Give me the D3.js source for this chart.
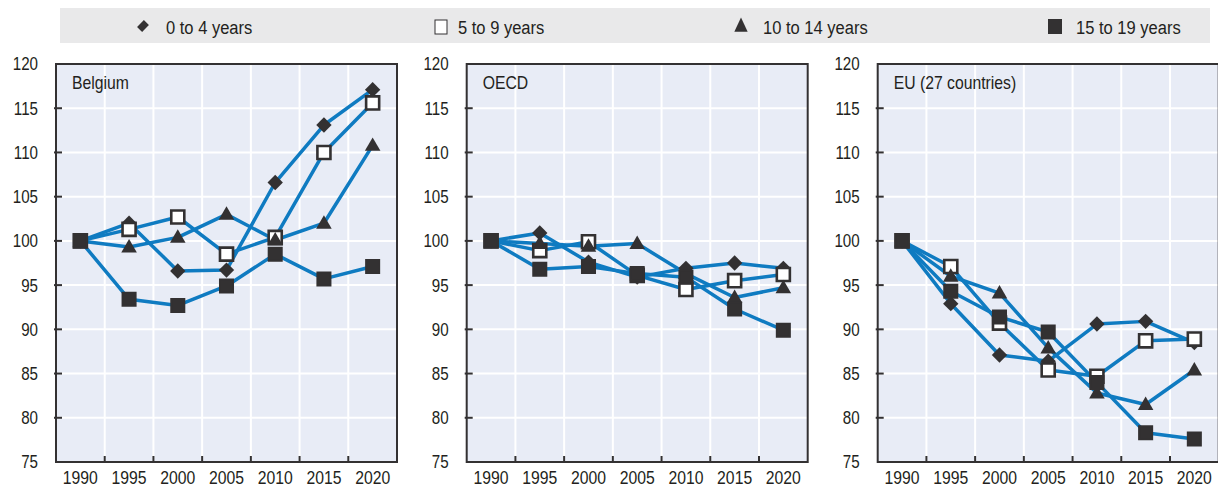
<!DOCTYPE html>
<html><head><meta charset="utf-8">
<script src="https://cdn.jsdelivr.net/npm/d3@7"></script>
<style>
body{margin:0;background:#fff;}
svg text{font-family:"Liberation Sans Narrow","Arial Narrow","Liberation Sans",Arial,sans-serif;fill:#231f20;}
</style></head><body><svg id="c" width="1218" height="488"></svg>
<script>
// ---- data ----
const years = ["1990","1995","2000","2005","2010","2015","2020"];
const yTicks = [75,80,85,90,95,100,105,110,115,120];
const panelNames = ["Belgium","OECD","EU (27 countries)"];
const seriesNames = ["0 to 4 years","5 to 9 years","10 to 14 years","15 to 19 years"];
const seriesSymbols = ["diamond","openSquare","triangle","square"];

const belgium0to4   = [100,102.0,96.6,96.7,106.6,113.1,117.1];
const belgium5to9   = [100,101.3,102.7,98.5,100.4,110.0,115.6];
const belgium10to14 = [100,99.3,100.4,103.0,100.1,102.0,110.8];
const belgium15to19 = [100,93.4,92.7,94.9,98.5,95.7,97.1];

const oecd0to4   = [100,100.9,97.6,95.9,96.9,97.5,96.9];
const oecd5to9   = [100,98.9,99.9,96.1,94.5,95.5,96.2];
const oecd10to14 = [100,99.7,99.4,99.7,96.3,93.6,94.7];
const oecd15to19 = [100,96.8,97.1,96.3,95.9,92.3,89.9];

const eu0to4   = [100,92.9,87.1,86.4,90.6,90.9,88.5];
const eu5to9   = [100,97.1,90.7,85.4,84.7,88.7,88.9];
const eu10to14 = [100,96.0,94.1,87.9,82.8,81.5,85.4];
const eu15to19 = [100,94.3,91.4,89.7,84.0,78.3,77.6];

const panelData = [
  [belgium0to4, belgium5to9, belgium10to14, belgium15to19],
  [oecd0to4, oecd5to9, oecd10to14, oecd15to19],
  [eu0to4, eu5to9, eu10to14, eu15to19]
];

// ---- drawing ----
const svg = d3.select("#c");
const lineColor = "#0f7bc1";
const markColor = "#333132";
const plotBg = "#e8ecf6";

// horizontally condense text (narrow face not installed)
function squeeze(sel, sx){
  sel.each(function(){
    const t = d3.select(this);
    const x = +t.attr("x") || 0;
    t.attr("x", x / sx).attr("transform", `scale(${sx},1)`);
  });
}

function symbolPath(kind){
  if (kind === "diamond") return d3.symbol(d3.symbolSquare, 118)();
  if (kind === "triangle") return d3.symbol(d3.symbolTriangle, 105)();
  return d3.symbol(d3.symbolSquare, 170)();
}
function drawMarker(g, kind, x, y){
  const p = g.append("path").attr("d", symbolPath(kind));
  if (kind === "diamond") {
    p.attr("transform", `translate(${x},${y}) rotate(45)`).attr("fill", markColor);
  } else if (kind === "openSquare") {
    p.attr("transform", `translate(${x},${y})`).attr("fill", "#fff").attr("stroke", markColor).attr("stroke-width", 2.6);
  } else if (kind === "triangle") {
    p.attr("transform", `translate(${x},${y+1})`).attr("fill", markColor);
  } else {
    p.attr("transform", `translate(${x},${y})`).attr("fill", markColor).attr("stroke", markColor).attr("stroke-width", 2);
  }
}

// Legend
const legend = svg.append("g");
legend.append("rect").attr("x", 60).attr("y", 8).attr("width", 1150).attr("height", 35).attr("fill", "#e9e9ea");
const legendMarkX = [143, 441, 741, 1055];
const legendTextX = [166, 458, 763, 1076];
seriesNames.forEach((name, i) => {
  const k = seriesSymbols[i];
  if (k === "openSquare") {
    legend.append("rect").attr("x", legendMarkX[i]-6).attr("y", 20).attr("width", 12).attr("height", 14)
      .attr("fill", "#fff").attr("stroke", markColor).attr("stroke-width", 1);
  } else if (k === "diamond") {
    legend.append("path").attr("d", d3.symbol(d3.symbolSquare, 70)()).attr("transform", `translate(${legendMarkX[i]},26) rotate(45) scale(0.85,1.15)`).attr("fill", markColor);
  } else if (k === "triangle") {
    legend.append("path").attr("d", d3.symbol(d3.symbolTriangle, 95)()).attr("transform", `translate(${legendMarkX[i]},27) scale(0.9,1.1)`).attr("fill", markColor);
  } else {
    legend.append("rect").attr("x", legendMarkX[i]-7).attr("y", 19).attr("width", 14).attr("height", 15).attr("fill", markColor);
  }
  legend.append("text").attr("class", "lt").attr("x", legendTextX[i]).attr("y", 34).attr("font-size", 19).text(name);
});
squeeze(legend.selectAll("text.lt"), 0.87);

// Panels
const plotLefts = [56, 466.7, 877.7];
const plotW = 341, plotTop = 64, plotBottom = 462;

panelNames.forEach((pname, pi) => {
  const g = svg.append("g").attr("transform", `translate(${plotLefts[pi]},0)`);
  const x = d3.scaleBand().domain(years).range([0, plotW]).padding(0);
  const y = d3.scaleLinear().domain([75, 120]).range([plotBottom, plotTop]);
  const cx = d => x(d) + x.bandwidth()/2;

  g.append("rect").attr("x", 0).attr("y", plotTop).attr("width", plotW).attr("height", plotBottom-plotTop).attr("fill", plotBg);

  // gridlines
  g.selectAll(".hg").data(yTicks.slice(1, -1)).join("line")
    .attr("x1", 0).attr("x2", plotW).attr("y1", d => y(d)).attr("y2", d => y(d))
    .attr("stroke", "#fff").attr("stroke-width", 2);
  g.selectAll(".vg").data(years.slice(1)).join("line")
    .attr("x1", d => x(d)).attr("x2", d => x(d)).attr("y1", plotTop).attr("y2", plotBottom)
    .attr("stroke", "#fff").attr("stroke-width", 2);

  // y axis labels + inward ticks
  const yAxis = d3.axisLeft(y).tickValues(yTicks).tickSize(0).tickPadding(18);
  const ya = g.append("g").call(yAxis);
  ya.select(".domain").remove();
  ya.selectAll("text").attr("font-size", 18.5).attr("font-family", null).attr("fill", "#231f20");
  squeeze(ya.selectAll("text"), 0.82);
  g.selectAll(".yt").data(yTicks.slice(1, -1)).join("line")
    .attr("x1", -2).attr("x2", 6).attr("y1", d => y(d)).attr("y2", d => y(d))
    .attr("stroke", markColor).attr("stroke-width", 2);

  // x axis labels + inward ticks
  const xAxis = d3.axisBottom(x).tickSize(0).tickPadding(9);
  const xa = g.append("g").attr("transform", `translate(0,${plotBottom})`).call(xAxis);
  xa.select(".domain").remove();
  xa.selectAll("text").attr("font-size", 19).attr("font-family", null).attr("fill", "#231f20");
  squeeze(xa.selectAll("text"), 0.83);
  g.selectAll(".xt").data(years.slice(1)).join("line")
    .attr("x1", d => x(d)).attr("x2", d => x(d)).attr("y1", plotBottom - 6).attr("y2", plotBottom + 1)
    .attr("stroke", markColor).attr("stroke-width", 2);

  // frame
  g.append("rect").attr("x", 0).attr("y", plotTop).attr("width", plotW).attr("height", plotBottom-plotTop)
    .attr("fill", "none").attr("stroke", markColor).attr("stroke-width", 2);

  // title
  const tt = g.append("text").attr("x", 16).attr("y", 89).attr("font-size", 19).text(pname);
  squeeze(tt, 0.83);

  // lines
  const line = d3.line().x((d, i) => cx(years[i])).y(d => y(d));
  panelData[pi].forEach(vals => {
    g.append("path").attr("d", line(vals)).attr("fill", "none").attr("stroke", lineColor)
      .attr("stroke-width", 3.5).attr("stroke-linejoin", "round");
  });
  // markers
  panelData[pi].forEach((vals, si) => {
    vals.forEach((v, i) => drawMarker(g, seriesSymbols[si], cx(years[i]), y(v)));
  });
});
</script></body></html>
